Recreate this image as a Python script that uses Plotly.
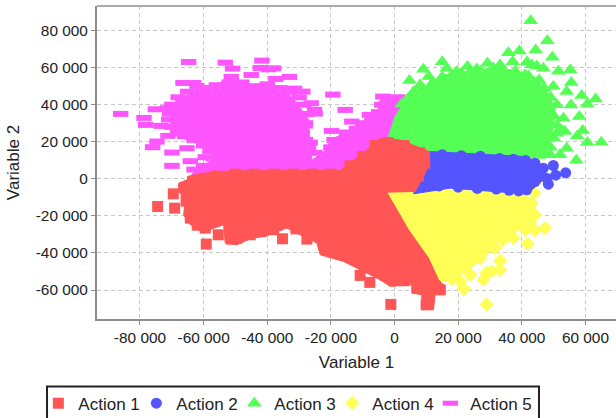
import plotly.graph_objects as go

tick_x = [-80000, -60000, -40000, -20000, 0, 20000, 40000, 60000]
tick_x_labels = ["-80 000", "-60 000", "-40 000", "-20 000", "0", "20 000", "40 000", "60 000"]
tick_y = [-60000, -40000, -20000, 0, 20000, 40000, 60000, 80000]
tick_y_labels = ["-60 000", "-40 000", "-20 000", "0", "20 000", "40 000", "60 000", "80 000"]
names = ["Action 1", "Action 2", "Action 3", "Action 4", "Action 5"]

# Outlines of the saturated (fully overplotted) clouds
a1_mass = [(-65230,1250),(-60000,3050),(-51620,4310),(-41160,4490),(-28590,4490),(-17080,4490),(-12900,10240),(-8710,15630),(-4520,21920),(1760,21020),(10970,14730),(10970,8440),(9090,1250),(6470,-6830),(-2430,-7190),(1760,-19400),(4380,-27490),(10660,-42760),(13800,-54440),(15890,-58030),(15890,-62520),(12750,-62520),(12230,-70610),(8560,-70610),(8560,-62520),(5420,-61630),(5420,-57130),(-1380,-58030),(-4520,-54440),(-9750,-49950),(-16030,-44560),(-23360,-40960),(-24410,-34680),(-29640,-30190),(-33830,-26590),(-40100,-30720),(-45340,-32340),(-49530,-35570),(-53190,-34680),(-53710,-24790),(-60520,-28930),(-64700,-23900),(-66270,-19400),(-65750,-11320),(-67840,-6830),(-67840,-2340),(-65230,-540)]
a2_mass = [(10970,14730),(24790,13470),(38390,12040),(41530,12040),(45720,6640),(46770,-540),(42580,-6830),(41530,-8090),(31070,-6830),(17460,-5030),(5950,-8090),(6470,-5930),(9090,1250),(10970,8440)]
a3_mass = [(-1900,22820),(190,33600),(2810,40780),(5950,47970),(11180,50660),(15370,56050),(22690,57850),(30020,59650),(37350,58750),(42580,53360),(47810,47970),(50500,37190),(49500,24610),(47500,11140),(5950,12040)]
a4_mass = [(-2430,-7190),(5950,-4490),(16410,-5930),(26880,-6830),(41530,-8620),(44670,-18500),(41530,-23900),(37350,-29290),(30020,-36470),(25830,-45460),(21650,-50850),(16410,-55340),(13800,-54440),(10660,-42760),(4380,-27490),(1760,-19400)]
a5_mass = [(-64180,1250),(-62100,5750),(-56850,10240),(-56850,15630),(-65230,21020),(-70460,24610),(-70460,30000),(-70460,38990),(-64180,46170),(-59470,49770),(-53710,52460),(-45340,50660),(-34870,48870),(-30690,40780),(-27000,32000),(-27000,24000),(-26000,20000),(-26000,10000),(-22000,15000),(-20000,21000),(-16030,24610),(-11850,27310),(-8710,33600),(-5560,35390),(-4520,42580),(1550,45280),(2500,38990),(1000,28210),(-500,21020),(-500,1250)]

# Individually visible points
a1_points = [(-74440,-14910),(-69100,-15810),(-69520,-8090),(-59160,-35210),(-55390,-30190),(-51200,-32520),(-35190,-32340),(-27550,-32520),(-10800,-52110),(-7760,-55880),(-1170,-67740),(9920,-67920),(7200,-58930),(14320,-59830),(10660,-62520),(-64180,-21200),(-63130,-14910),(-59470,-26590),(-45340,-30190),(-49530,-31980),(-3000,-52000),(3000,-55000),
             (-62000,-1000),(-56000,1500),(-50000,2500),(-44000,2500),(-38000,2500),(-32000,2500),(-26000,2500),(-20000,2500),(-14000,7000),(-10000,12000),(-6000,18000),(-2000,19500),(3000,18000),(8000,14000),(9500,8500),(7500,1500),(-2000,-22000),(1000,-32000),(6000,-45000),(9000,-55000),
             (-46000,-29500),(-42000,-28500),(-38000,-27500),(-31000,-27000),(-24000,-30000),(-62000,-25000),(-65500,-12000)]
a2_points = [(53780,3230),(50640,1970),(48340,-2880),(49910,7190),(45720,1800),(44150,8440),(41220,9880),(41530,-5930),(44150,-1440),(46770,5750),(47810,360),(37350,10600),(39000,-6500),
             (15000,13000),(21000,12500),(27000,12200),(33000,11000),(14000,-3800),(20000,-4500),(26000,-5200),(32000,-5500),(36000,-6200)]
a3_points = [(42790,85340),(48020,74560),(44360,69530),(49590,65580),(35780,68090),(39230,68990),(14950,63240),(9090,59110),(10760,55160),(4690,53000),(41640,63060),(43210,61450),(46770,59650),(51480,58030),(55250,58750),(55560,51920),(58800,44920),(63200,43120),(60580,40240),(58070,33600),(59120,26050),(57440,23170),(60580,19580),(64980,19760),(57130,10060),(54090,16530),(52000,12930),(50950,24610),(53050,32700),(49910,49770),(54090,47070),(55450,39890),(37140,63240),(29180,62340),(22900,60550),(19550,57850),(16410,59650),(33160,61450),(25830,59290),(8040,50660),(2280,40420),(44670,60910),(45410,53360),(42060,55520),(53570,25510),(52530,26410),
             (4000,43000),(6000,47000),(12000,52000),(15000,55000),(18000,56000),(21000,57000),(24000,58000),(27000,58000),(31000,60000),(34000,59000),(38000,58000),(41000,56000),(44000,52000),(47000,49000),(49000,44000),(51000,40000),(50000,34000),(51000,29000),(50000,22000),(49000,17000),(49000,13000)]
a4_points = [(28970,-67740),(21850,-59470),(20600,-55340),(27930,-54440),(28970,-50490),(30540,-49950),(33160,-44200),(33160,-49050),(41850,-35040),(47290,-26590),(44150,-27850),(40990,-27490),(37350,-31980),(34000,-32880),(43940,-7730),(44150,-19400),(43100,-13120),(26880,-42760),(23740,-51740),(31590,-37370),(40490,-18500),(39440,-21200),(42580,-23900),
             (18000,-54000),(14500,-53000),(36000,-28000),(28000,-39000)]
a5_points = [(-86057,35035),(-78730,32877),(-78200,29100),(-75170,37550),(-73390,28570),(-76010,17070),(-74650,20120),(-69940,14190),(-69940,7000),(-64700,63060),(-53190,62700),(-50890,59470),(-41680,63780),(-42200,59830),(-38010,59650),(-39580,59110),(-51300,54980),(-45030,56050),(-37280,53900),(-32990,54980),(-19380,45460),(-15510,37190),(-26180,40780),(-25140,37190),(-24930,35210),(-19800,25870),(-13420,30900),(-7870,34500),(-3680,44380),(-28800,47070),(-31420,48690),(-66480,51740),(-63130,51740),(-28070,28750),(-26500,19580),(-64180,9520),(-59470,11680),(-65230,16530),(-71300,38090),(-70670,35200),(-71200,23180),(-66480,42940),(-62100,50120),
             (-70000,40000),(-68000,44000),(-65000,47000),(-60000,49000),(-56000,50500),(-52000,52000),(-48000,52000),(-44000,50000),(-40000,51000),(-36000,49000),(-33000,47000),(-30000,44000),(-28500,40000),(-27500,35000),(-28000,30000),(-29000,25000),(-28000,21000),(-27000,17000),(-25000,14000),(-22000,13000),(-20000,17000),(-19000,21000),(-15000,25000),(-12000,27000),(-10000,30000),(-7000,33000),(-5000,36000),(-4000,40000),(-1000,42000),(1000,44000),(-71000,32000),(-70000,28000),(-68000,25000),(-66000,23000),(-63000,21000),(-60000,18000),(-58000,15000),(-57000,11000),(-60000,7000),(-63000,5000)]

RED, BLUE, GREEN, YELLOW, PINK = "#ff5555", "#5555ff", "#55ff55", "#ffff55", "#ff55ff"
series = [
    (a5_mass, a5_points, PINK, "line-ew", 11, 4),
    (a3_mass, a3_points, GREEN, "triangle-up", 13, 2),
    (a4_mass, a4_points, YELLOW, "diamond", 11, 3),
    (a2_mass, a2_points, BLUE, "circle", 11, 1),
    (a1_mass, a1_points, RED, "square", 11, 0),
]

fig = go.Figure()
for mass, points, color, symbol, size, idx in series:
    fig.add_trace(go.Scatter(x=[p[0] for p in mass], y=[p[1] for p in mass], mode="lines",
                             fill="toself", fillcolor=color, line=dict(color=color, width=1),
                             showlegend=False, hoverinfo="skip"))
    marker = dict(symbol=symbol, size=size, color=color)
    if symbol == "line-ew":
        marker["line"] = dict(color=color, width=6)
    fig.add_trace(go.Scatter(x=[p[0] for p in points], y=[p[1] for p in points], mode="markers",
                             marker=marker, name=names[idx], legendrank=idx + 1))

axis_common = dict(showgrid=True, gridcolor="#c8c8c8", griddash="4px,3px", gridwidth=1, zeroline=False,
                   showline=True, linecolor="#8c8c8c", linewidth=2, ticks="outside", ticklen=4,
                   tickcolor="#8c8c8c", tickfont=dict(size=15.4, color="#222222"))
fig.update_layout(
    width=616, height=418, margin=dict(l=97, r=0, t=6, b=99, pad=0, autoexpand=False),
    paper_bgcolor="white", plot_bgcolor="white",
    font=dict(family="Liberation Sans, Arial, sans-serif", color="#222222"),
    xaxis=dict(range=[-93500, 69600], tickvals=tick_x, ticktext=tick_x_labels,
               title=dict(text="Variable 1", font=dict(size=17), standoff=11), **axis_common),
    yaxis=dict(range=[-75630, 93260], tickvals=tick_y, ticktext=tick_y_labels,
               title=dict(text="Variable 2", font=dict(size=17), standoff=12), **axis_common),
    legend=dict(orientation="h", x=-0.113, xanchor="left", y=-0.213, yanchor="top",
                bgcolor="rgba(0,0,0,0)", borderwidth=0, font=dict(size=17),
                entrywidth=53, entrywidthmode="pixels", traceorder="normal"),
    shapes=[dict(type="line", xref="paper", yref="paper", x0=0, x1=1, y0=1, y1=1,
                 line=dict(color="#aaaaaa", width=2)),
            dict(type="rect", xref="paper", yref="paper", x0=-0.0963, x1=0.8516, y0=-0.216, y1=-0.36,
                 line=dict(color="#222222", width=2))],
)
fig.write_html(
    "out.html",
    config={"displayModeBar": False},
    post_script=("document.body.style.margin='0';document.body.style.overflow='hidden';"
                 "document.querySelectorAll('.legend .scrollbox').forEach(function(e){e.removeAttribute('clip-path');});"
                 "var l=document.querySelector('.legend');if(l){l.removeAttribute('clip-path');}"),
)
